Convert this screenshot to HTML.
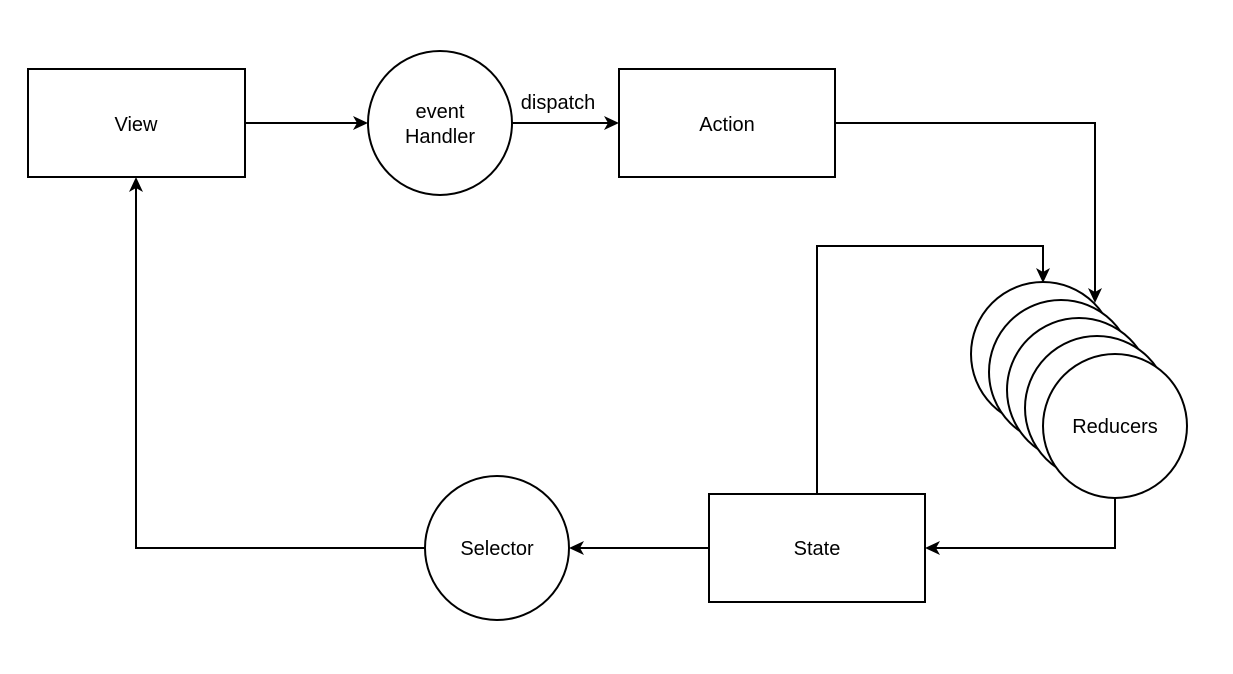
<!DOCTYPE html>
<html><head><meta charset="utf-8"><style>
html,body{margin:0;padding:0;background:#fff;}
svg{display:block;}
text{font-family:"Liberation Sans",Arial,sans-serif;font-size:20px;fill:#000;}
</style></head><body>
<svg width="1233" height="674" viewBox="0 0 1233 674" xmlns="http://www.w3.org/2000/svg">
<g fill="none" stroke="#000" stroke-width="2">
<path d="M245,123 H358"/>
<path d="M512,123 H608"/>
<path d="M835,123 H1095 V292"/>
<path d="M817,494 V246 H1043 V272"/>
<path d="M1115,498 V548 H936"/>
<path d="M709,548 H580"/>
<path d="M425,548 H136 V188"/>
</g>
<g fill="#000">
<path d="M368,123 L353,116 L357,123 L353,130 Z"/>
<path d="M619,123 L604,116 L608,123 L604,130 Z"/>
<path d="M1095,303 L1088,288 L1095,292 L1102,288 Z"/>
<path d="M1043,283 L1036,268 L1043,272 L1050,268 Z"/>
<path d="M925,548 L940,541 L936,548 L940,555 Z"/>
<path d="M569,548 L584,541 L580,548 L584,555 Z"/>
<path d="M136,177 L129,192 L136,188 L143,192 Z"/>
</g>
<g fill="#fff" stroke="#000" stroke-width="2">
<rect x="28" y="69" width="217" height="108"/>
<rect x="619" y="69" width="216" height="108"/>
<rect x="709" y="494" width="216" height="108"/>
<circle cx="440" cy="123" r="72"/>
<circle cx="497" cy="548" r="72"/>
<circle cx="1043" cy="354" r="72"/>
<circle cx="1061" cy="372" r="72"/>
<circle cx="1079" cy="390" r="72"/>
<circle cx="1097" cy="408" r="72"/>
<circle cx="1115" cy="426" r="72"/>
</g>
<g text-anchor="middle">
<text x="136" y="131">View</text>
<text x="440" y="118">event</text>
<text x="440" y="143">Handler</text>
<text x="558" y="109">dispatch</text>
<text x="727" y="131">Action</text>
<text x="1115" y="433">Reducers</text>
<text x="817" y="555">State</text>
<text x="497" y="555">Selector</text>
</g>
</svg>
</body></html>
